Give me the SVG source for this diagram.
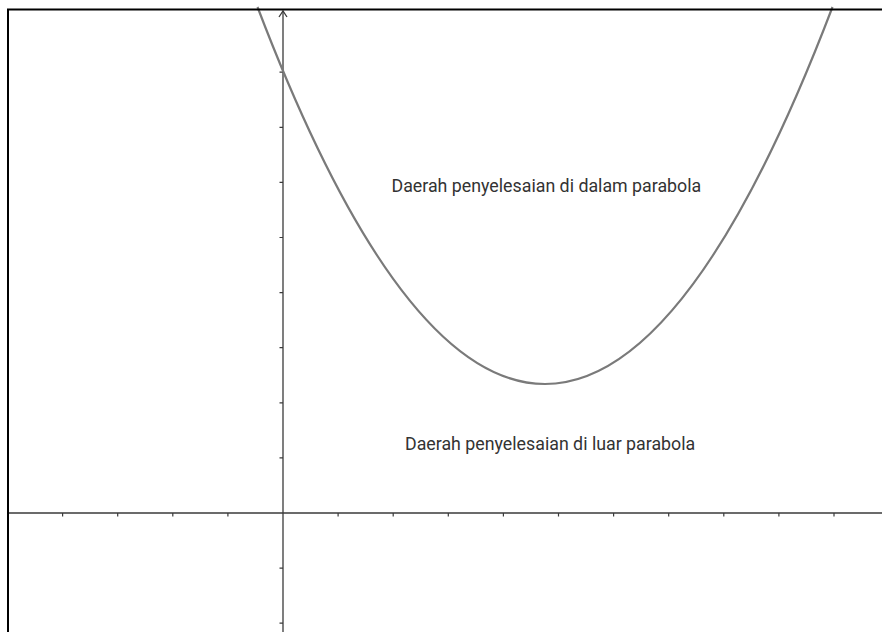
<svg xmlns="http://www.w3.org/2000/svg" width="882" height="632" viewBox="0 0 882 632">
<style>
.axis{stroke:#3a3a3a;stroke-width:1.3;fill:none}
.tick{stroke:#3a3a3a;stroke-width:1.2}
.curve{stroke:#7a7a7a;stroke-width:2.2;fill:none}
.frame{stroke:#000;stroke-width:2;fill:none}
.lbl{font-family:Roboto,"Liberation Sans",sans-serif;font-size:17.8px;fill:#333}
</style>
<rect width="882" height="632" fill="#fff"/>
<g id="axes">
<line class="axis" x1="8" y1="513" x2="882" y2="513"/>
<line class="axis" x1="283" y1="11" x2="283" y2="632"/>
<path class="axis" d="M279,17 L283,11 L287,17"/>
<g id="xticks">
<path class="tick" d="M62.6,513v3.5M117.7,513v3.5M172.8,513v3.5M227.9,513v3.5M338.1,513v3.5M393.2,513v3.5M448.3,513v3.5M503.4,513v3.5M558.5,513v3.5M613.6,513v3.5M668.7,513v3.5M723.8,513v3.5M778.9,513v3.5M834,513v3.5"/>
</g>
<g id="yticks">
<path class="tick" d="M283,72.2h-3.5M283,127.3h-3.5M283,182.4h-3.5M283,237.5h-3.5M283,292.6h-3.5M283,347.7h-3.5M283,402.8h-3.5M283,457.9h-3.5M283,568.1h-3.5M283,623.2h-3.5"/>
</g>
</g>
<g id="parabola">
<path class="curve" d="M257.5,7 Q545,761 832.5,7"/>
</g>
<g id="labels">
<text id="inside" class="lbl" x="391.5" y="191.5">Daerah penyelesaian di dalam parabola</text>
<text id="outside" class="lbl" x="405" y="450">Daerah penyelesaian di luar parabola</text>
</g>
<path id="frame" class="frame" d="M8,632 V9.5 H882"/>
</svg>
